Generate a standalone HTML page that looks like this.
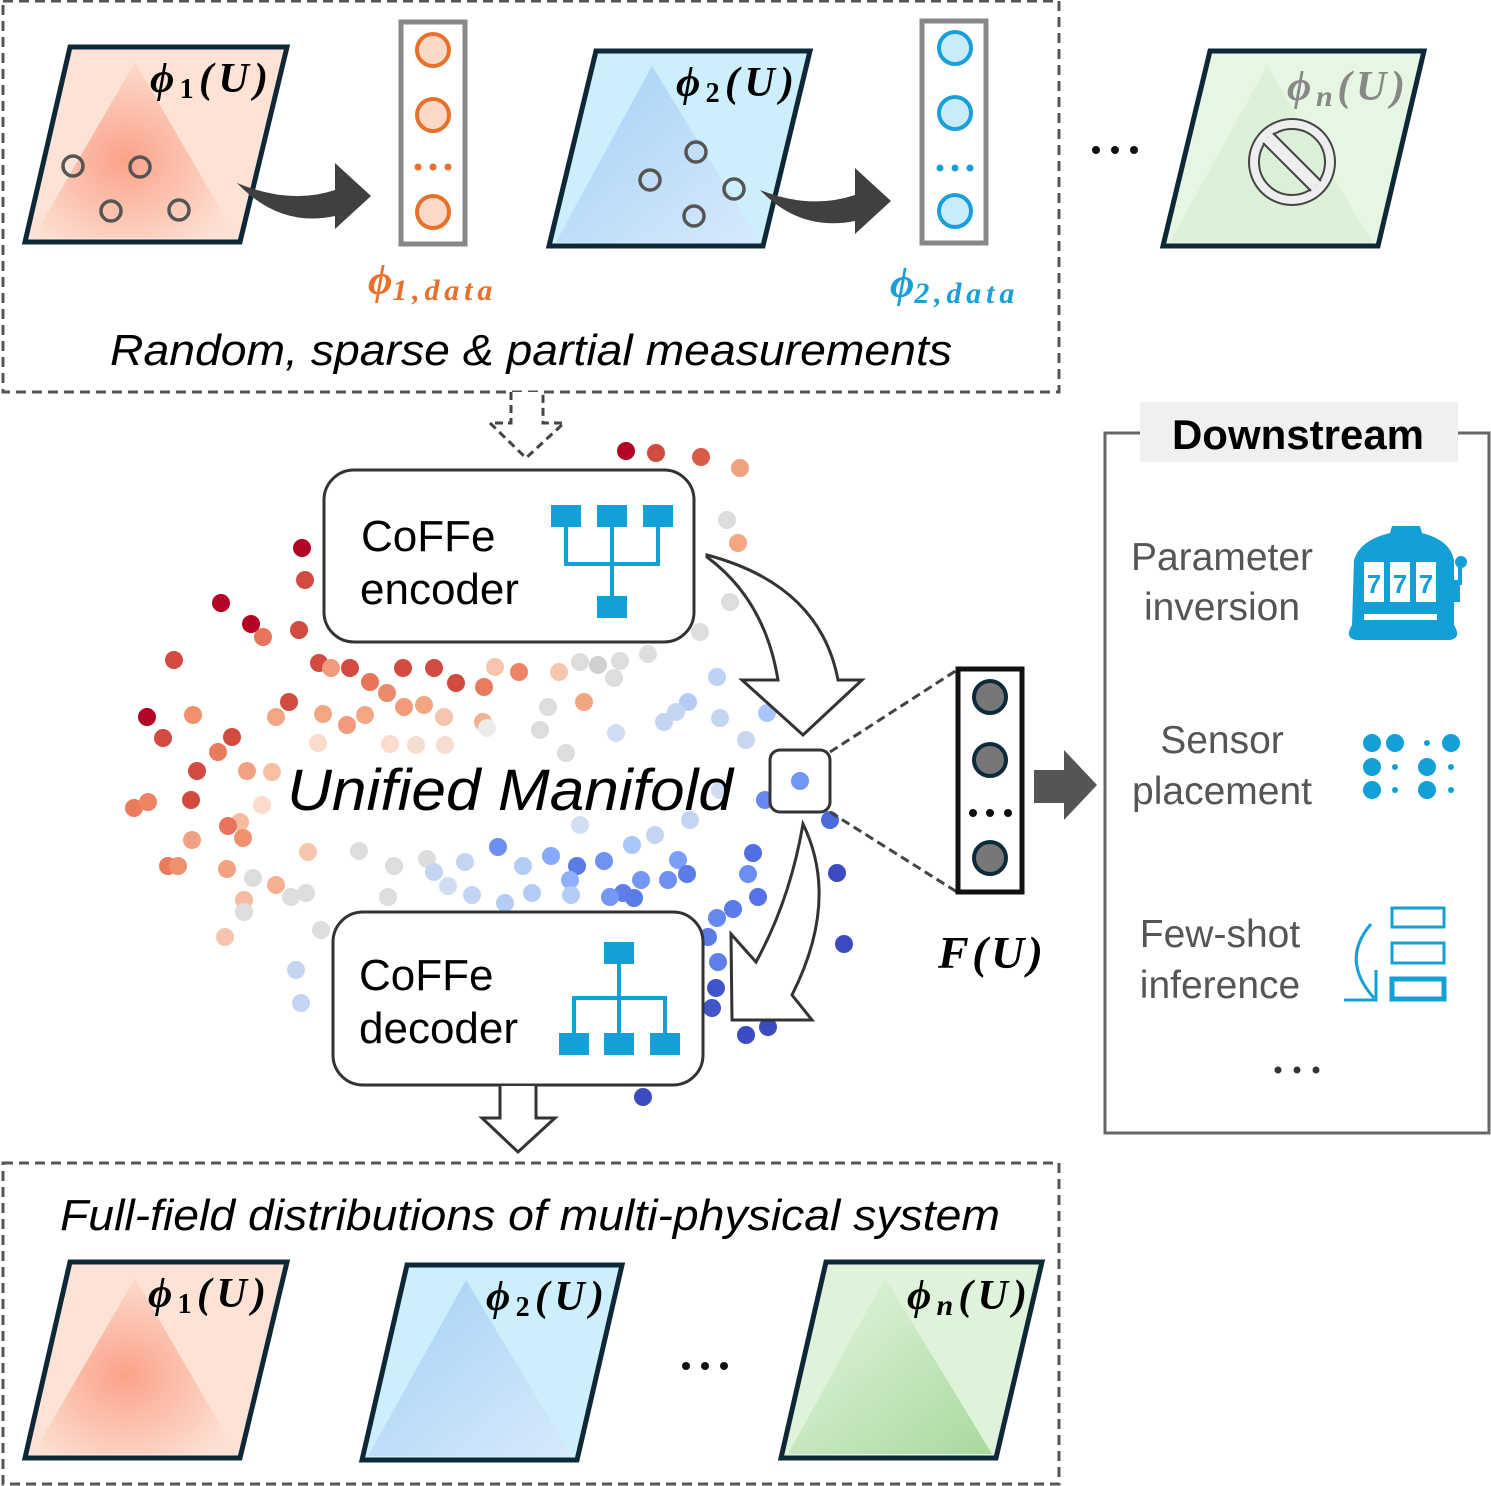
<!DOCTYPE html>
<html><head><meta charset="utf-8"><style>
html,body{margin:0;padding:0;background:#fff}
svg{display:block}
.s{font-family:"Liberation Sans",sans-serif}
.m{font-family:"Liberation Serif",serif;font-weight:bold;font-style:italic}
</style></head><body>
<svg width="1491" height="1486" viewBox="0 0 1491 1486" xmlns="http://www.w3.org/2000/svg">
<defs>
<radialGradient id="rg" cx="0.45" cy="0.55" r="0.6"><stop offset="0" stop-color="#fb9b80"/><stop offset="1" stop-color="#fde0d4"/></radialGradient>
<linearGradient id="bg" x1="0" y1="0" x2="1" y2="1"><stop offset="0" stop-color="#9ccbf5"/><stop offset="1" stop-color="#d9e9fb"/></linearGradient>
<linearGradient id="gg" x1="0" y1="0" x2="1" y2="1"><stop offset="0" stop-color="#e9f6e6"/><stop offset="1" stop-color="#9fd493"/></linearGradient>
</defs>

<rect x="3" y="1" width="1056" height="391" fill="none" stroke="#555" stroke-width="3" stroke-dasharray="10,6"/>
<rect x="3" y="1163" width="1056" height="321" fill="none" stroke="#555" stroke-width="3" stroke-dasharray="10,6"/>

<polygon points="25,242 70,47 287,47 240,242" fill="#fde2d6" stroke="#0e2838" stroke-width="5"/>
<polygon points="135,62 33,238 237,238" fill="url(#rg)" opacity="0.9"/>
<polygon points="549,246 596,51 810,51 763,246" fill="#cdeefb" stroke="#0e2838" stroke-width="5"/>
<polygon points="652,66 556,242 760,242" fill="url(#bg)" opacity="0.85"/>
<polygon points="1163,246 1210,51 1424,51 1378,246" fill="#e6f6e2" stroke="#0e2838" stroke-width="5"/>
<polygon points="1267,66 1170,242 1372,242" fill="#d6efd0" opacity="0.6"/>
<g fill="none" stroke="#555" stroke-width="3.5">
<circle cx="73" cy="166" r="10"/><circle cx="140" cy="167" r="10"/><circle cx="111" cy="211" r="10"/><circle cx="179" cy="210" r="10"/>
<circle cx="696" cy="152" r="10"/><circle cx="650" cy="180" r="10"/><circle cx="734" cy="189" r="10"/><circle cx="694" cy="216" r="10"/>
</g>
<text x="150" y="92" class="m" font-size="42" textLength="118" lengthAdjust="spacing">ϕ<tspan font-size="28" font-style="normal" dy="6">1</tspan><tspan dy="-6">(U)</tspan></text>
<text x="676" y="96" class="m" font-size="42" textLength="118" lengthAdjust="spacing">ϕ<tspan font-size="28" font-style="normal" dy="6">2</tspan><tspan dy="-6">(U)</tspan></text>
<text x="1287" y="100" class="m" font-size="42" fill="#888" textLength="118" lengthAdjust="spacing">ϕ<tspan font-size="30" dy="6">n</tspan><tspan dy="-6">(U)</tspan></text>
<circle cx="1292" cy="162" r="43" fill="#eee" stroke="#444" stroke-width="2"/>
<circle cx="1292" cy="162" r="33" fill="#dcefd8" stroke="#444" stroke-width="2"/>
<line x1="1268" y1="138" x2="1316" y2="186" stroke="#eee" stroke-width="12"/>
<path d="M1263,143 L1311,191 M1273,133 L1321,181" stroke="#444" stroke-width="2"/>

<path d="M237,183 Q290,205 335,190 L335,163 L371,196 L335,229 L335,216 Q280,228 237,183Z" fill="#404040"/>
<path d="M760,190 Q810,210 855,195 L855,168 L891,201 L855,234 L855,221 Q800,232 760,190Z" fill="#404040"/>

<rect x="401" y="22" width="64" height="222" fill="#fff" stroke="#888" stroke-width="5"/>
<g fill="#fbd9c6" stroke="#e8702a" stroke-width="4"><circle cx="433" cy="50" r="16"/><circle cx="433" cy="115" r="16"/><circle cx="433" cy="212" r="16"/></g>
<g fill="#e8702a"><circle cx="418" cy="167" r="3.5"/><circle cx="433" cy="167" r="3.5"/><circle cx="448" cy="167" r="3.5"/></g>
<rect x="922" y="21" width="64" height="222" fill="#fff" stroke="#888" stroke-width="5"/>
<g fill="#c8ecfa" stroke="#1a9fd8" stroke-width="4"><circle cx="955" cy="48" r="16"/><circle cx="955" cy="113" r="16"/><circle cx="955" cy="211" r="16"/></g>
<g fill="#1a9fd8"><circle cx="940" cy="168" r="3.5"/><circle cx="955" cy="168" r="3.5"/><circle cx="970" cy="168" r="3.5"/></g>
<text x="368" y="294" class="m" font-size="42" fill="#e8702a">ϕ<tspan font-size="30" dy="6" textLength="100" lengthAdjust="spacing">1,data</tspan></text>
<text x="890" y="297" class="m" font-size="42" fill="#1a9fd8">ϕ<tspan font-size="30" dy="6" textLength="100" lengthAdjust="spacing">2,data</tspan></text>
<g fill="#111"><circle cx="1096" cy="150" r="4"/><circle cx="1115" cy="150" r="4"/><circle cx="1134" cy="150" r="4"/></g>
<text x="110" y="365" class="s" font-size="44" font-style="italic" textLength="842" lengthAdjust="spacingAndGlyphs">Random, sparse &amp; partial measurements</text>

<path d="M511,392 L511,423 L490,423 L526,458 L564,423 L543,423 L543,392" fill="#fff" stroke="#444" stroke-width="3" stroke-dasharray="8,5"/>

<g>
<circle cx="626" cy="451" r="9" fill="#b40426"/><circle cx="656" cy="453" r="9" fill="#d24b40"/><circle cx="701" cy="457" r="9" fill="#d85c47"/><circle cx="740" cy="468" r="9" fill="#f2a283"/><circle cx="727" cy="520" r="9" fill="#ddd"/><circle cx="738" cy="543" r="9" fill="#f4a683"/>
<circle cx="302" cy="548" r="9" fill="#b40426"/><circle cx="305" cy="580" r="9" fill="#d24b40"/><circle cx="221" cy="603" r="9" fill="#b40426"/><circle cx="251" cy="624" r="9" fill="#b40426"/><circle cx="263" cy="637" r="9" fill="#e7745b"/><circle cx="299" cy="630" r="9" fill="#d24b40"/><circle cx="174" cy="660" r="9" fill="#d24b40"/>
<circle cx="147" cy="717" r="9" fill="#b40426"/><circle cx="163" cy="738" r="9" fill="#d24b40"/><circle cx="193" cy="715" r="9" fill="#f0906f"/><circle cx="232" cy="737" r="9" fill="#d24b40"/><circle cx="218" cy="752" r="9" fill="#ea7b5d"/><circle cx="197" cy="771" r="9" fill="#d24b40"/><circle cx="191" cy="800" r="9" fill="#d24b40"/><circle cx="134" cy="808" r="9" fill="#ea7b5d"/><circle cx="148" cy="802" r="9" fill="#ee8465"/><circle cx="247" cy="771" r="9" fill="#f2a283"/><circle cx="272" cy="772" r="9" fill="#f8c1a6"/><circle cx="240" cy="822" r="9" fill="#f6bba0"/><circle cx="228" cy="826" r="9" fill="#e7745b"/><circle cx="243" cy="838" r="9" fill="#f0906f"/><circle cx="192" cy="840" r="9" fill="#f2a283"/><circle cx="168" cy="866" r="9" fill="#ea7b5d"/><circle cx="178" cy="866" r="9" fill="#f0906f"/><circle cx="227" cy="869" r="9" fill="#f2a283"/><circle cx="253" cy="878" r="9" fill="#ddd"/><circle cx="244" cy="900" r="9" fill="#f6bba0"/><circle cx="244" cy="912" r="9" fill="#ddd"/><circle cx="225" cy="937" r="9" fill="#f7c5ad"/><circle cx="276" cy="885" r="9" fill="#f4b091"/><circle cx="291" cy="897" r="9" fill="#ddd"/><circle cx="306" cy="893" r="9" fill="#ddd"/>
<circle cx="319" cy="663" r="9" fill="#d24b40"/><circle cx="331" cy="668" r="9" fill="#f29a7b"/><circle cx="350" cy="668" r="9" fill="#d24b40"/><circle cx="370" cy="682" r="9" fill="#e7745b"/><circle cx="403" cy="668" r="9" fill="#d24b40"/><circle cx="434" cy="668" r="9" fill="#d24b40"/><circle cx="456" cy="683" r="9" fill="#d24b40"/><circle cx="484" cy="687" r="9" fill="#ea7b5d"/><circle cx="495" cy="667" r="9" fill="#f7c5ad"/><circle cx="519" cy="672" r="9" fill="#ee8465"/><circle cx="387" cy="693" r="9" fill="#ec8a6c"/><circle cx="404" cy="707" r="9" fill="#f29a7b"/><circle cx="424" cy="705" r="9" fill="#f4a683"/><circle cx="444" cy="717" r="9" fill="#f7c5ad"/><circle cx="483" cy="722" r="9" fill="#f4b091"/><circle cx="365" cy="715" r="9" fill="#f4a683"/><circle cx="347" cy="725" r="9" fill="#f29a7b"/><circle cx="323" cy="714" r="9" fill="#f4a683"/><circle cx="289" cy="702" r="9" fill="#d24b40"/><circle cx="276" cy="717" r="9" fill="#f4a683"/>
<circle cx="559" cy="672" r="9" fill="#f7c5ad"/><circle cx="580" cy="662" r="9" fill="#ddd"/><circle cx="598" cy="665" r="9" fill="#d0d0d0"/><circle cx="614" cy="678" r="9" fill="#ddd"/><circle cx="620" cy="661" r="9" fill="#ddd"/><circle cx="648" cy="654" r="9" fill="#ddd"/><circle cx="700" cy="632" r="9" fill="#ddd"/><circle cx="730" cy="602" r="9" fill="#ddd"/><circle cx="584" cy="702" r="9" fill="#f4a683"/><circle cx="548" cy="707" r="9" fill="#ddd"/><circle cx="540" cy="730" r="9" fill="#ddd"/><circle cx="566" cy="753" r="9" fill="#ddd"/>
<circle cx="717" cy="677" r="9" fill="#bcd2f7"/><circle cx="688" cy="702" r="9" fill="#b4cdf7"/><circle cx="676" cy="712" r="9" fill="#c4d5f3"/><circle cx="664" cy="722" r="9" fill="#c4d5f3"/><circle cx="720" cy="718" r="9" fill="#c4d5f3"/><circle cx="767" cy="713" r="9" fill="#aac7fd"/><circle cx="746" cy="740" r="9" fill="#c9d7f0"/><circle cx="616" cy="733" r="9" fill="#d0ddf3"/>
<circle cx="765" cy="800" r="9" fill="#6788ee"/><circle cx="830" cy="820" r="9" fill="#4b6ae0"/><circle cx="837" cy="873" r="9" fill="#3b4cc0"/><circle cx="844" cy="944" r="9" fill="#3b4cc0"/><circle cx="753" cy="853" r="9" fill="#4f6fe2"/><circle cx="748" cy="874" r="9" fill="#6c8ff1"/><circle cx="758" cy="897" r="9" fill="#5573e6"/><circle cx="733" cy="909" r="9" fill="#5b7be8"/><circle cx="717" cy="918" r="9" fill="#6788ee"/><circle cx="718" cy="962" r="9" fill="#5f80ea"/><circle cx="716" cy="988" r="9" fill="#4055c8"/><circle cx="712" cy="1008" r="9" fill="#4055c8"/><circle cx="746" cy="1035" r="9" fill="#3b4cc0"/><circle cx="768" cy="1027" r="9" fill="#3b4cc0"/><circle cx="643" cy="1097" r="9" fill="#3b4cc0"/><circle cx="708" cy="937" r="9" fill="#5b7be8"/>
<circle cx="498" cy="847" r="9" fill="#6c8ff1"/><circle cx="523" cy="866" r="9" fill="#b4cdf7"/><circle cx="551" cy="856" r="9" fill="#86a9fc"/><circle cx="577" cy="866" r="9" fill="#5b7be8"/><circle cx="604" cy="861" r="9" fill="#7093f3"/><circle cx="632" cy="845" r="9" fill="#aac7fd"/><circle cx="655" cy="835" r="9" fill="#c4d5f3"/><circle cx="678" cy="860" r="9" fill="#7b9ff9"/><circle cx="687" cy="874" r="9" fill="#5b7be8"/><circle cx="668" cy="880" r="9" fill="#6e90f2"/><circle cx="641" cy="880" r="9" fill="#7597f6"/><circle cx="623" cy="893" r="9" fill="#5f7fe8"/><circle cx="610" cy="897" r="9" fill="#7597f6"/><circle cx="634" cy="898" r="9" fill="#5b7be8"/><circle cx="570" cy="880" r="9" fill="#8db0fe"/><circle cx="571" cy="895" r="9" fill="#b4cdf7"/><circle cx="532" cy="893" r="9" fill="#b4cdf7"/><circle cx="505" cy="903" r="9" fill="#b4cdf7"/><circle cx="472" cy="895" r="9" fill="#c4d5f3"/><circle cx="448" cy="886" r="9" fill="#d0ddf3"/><circle cx="388" cy="897" r="9" fill="#ddd"/><circle cx="359" cy="851" r="9" fill="#ddd"/><circle cx="394" cy="866" r="9" fill="#ddd"/><circle cx="427" cy="859" r="9" fill="#ddd"/><circle cx="434" cy="872" r="9" fill="#c4d5f3"/><circle cx="465" cy="862" r="9" fill="#c4d5f3"/><circle cx="296" cy="970" r="9" fill="#c4d5f3"/><circle cx="301" cy="1003" r="9" fill="#c4d5f3"/><circle cx="321" cy="930" r="9" fill="#ddd"/><circle cx="308" cy="852" r="9" fill="#f7c5ad"/>
<circle cx="318" cy="743" r="9" fill="#fadbcc"/><circle cx="390" cy="744" r="9" fill="#fadbcc"/><circle cx="416" cy="745" r="9" fill="#f6ddd0"/><circle cx="445" cy="745" r="9" fill="#f6ddd0"/><circle cx="487" cy="728" r="9" fill="#ececec"/><circle cx="262" cy="805" r="9" fill="#fadbcc"/><circle cx="580" cy="825" r="9" fill="#d0ddf3"/><circle cx="690" cy="820" r="9" fill="#c4d5f3"/><circle cx="720" cy="790" r="9" fill="#d0ddf3"/>
</g>

<text x="287" y="810" class="s" font-size="58" font-style="italic" textLength="446" lengthAdjust="spacingAndGlyphs">Unified Manifold</text>

<rect x="324" y="470" width="370" height="172" rx="30" fill="#fff" stroke="#333" stroke-width="3"/>
<text x="361" y="551" class="s" font-size="44">CoFFe</text>
<text x="360" y="604" class="s" font-size="44">encoder</text>
<g fill="#12a0d7"><rect x="551" y="505" width="30" height="22"/><rect x="597" y="505" width="30" height="22"/><rect x="643" y="505" width="30" height="22"/><rect x="597" y="596" width="30" height="22"/></g>
<path d="M566,527 V564 H658 V527 M612,527 V596" fill="none" stroke="#12a0d7" stroke-width="4"/>

<path d="M707,555 Q820,585 838,680 L862,680 L803,735 L742,680 L778,680 Q765,600 707,557Z" fill="#fff" stroke="#333" stroke-width="3"/>

<rect x="770" y="750" width="60" height="62" rx="10" fill="#fff" stroke="#333" stroke-width="3"/>
<circle cx="800" cy="781" r="9" fill="#6f95f5"/>
<line x1="830" y1="752" x2="957" y2="670" stroke="#444" stroke-width="3" stroke-dasharray="9,5"/>
<line x1="830" y1="812" x2="957" y2="892" stroke="#444" stroke-width="3" stroke-dasharray="9,5"/>

<path d="M803,824 Q840,900 792,995 L812,1020 L732,1020 L731,934 L756,962 Q790,900 803,824Z" fill="#fff" stroke="#333" stroke-width="3"/>

<rect x="958" y="669" width="64" height="223" fill="#fff" stroke="#111" stroke-width="5"/>
<g fill="#777" stroke="#0d2a3a" stroke-width="4"><circle cx="990" cy="697" r="16"/><circle cx="990" cy="760" r="16"/><circle cx="990" cy="858" r="16"/></g>
<g fill="#111"><circle cx="973" cy="813" r="4"/><circle cx="990" cy="813" r="4"/><circle cx="1008" cy="813" r="4"/></g>
<text x="938" y="968" class="m" font-size="46" textLength="105" lengthAdjust="spacing">F(U)</text>
<polygon points="1034,770 1064,770 1064,750 1097,785 1064,820 1064,803 1034,803" fill="#555"/>

<rect x="333" y="912" width="370" height="173" rx="30" fill="#fff" stroke="#333" stroke-width="3"/>
<text x="359" y="990" class="s" font-size="44">CoFFe</text>
<text x="359" y="1043" class="s" font-size="44">decoder</text>
<g fill="#12a0d7"><rect x="604" y="942" width="30" height="22"/><rect x="559" y="1033" width="30" height="22"/><rect x="604" y="1033" width="30" height="22"/><rect x="650" y="1033" width="30" height="22"/></g>
<path d="M619,964 V1033 M574,1033 V998 H665 V1033" fill="none" stroke="#12a0d7" stroke-width="4"/>
<path d="M500,1086 L500,1118 L482,1118 L518,1152 L555,1118 L536,1118 L536,1086" fill="#fff" stroke="#333" stroke-width="3"/>

<text x="60" y="1230" class="s" font-size="44" font-style="italic" textLength="940" lengthAdjust="spacingAndGlyphs">Full-field distributions of multi-physical system</text>
<polygon points="25,1458 70,1262 287,1262 240,1458" fill="#fde2d6" stroke="#0e2838" stroke-width="5"/>
<polygon points="135,1278 33,1454 237,1454" fill="url(#rg)" opacity="0.9"/>
<polygon points="362,1460 407,1265 622,1265 577,1460" fill="#cdeefb" stroke="#0e2838" stroke-width="5"/>
<polygon points="466,1280 368,1456 572,1456" fill="url(#bg)" opacity="0.85"/>
<polygon points="781,1458 826,1262 1042,1262 996,1458" fill="#dff3da" stroke="#0e2838" stroke-width="5"/>
<polygon points="885,1278 788,1454 992,1454" fill="url(#gg)" opacity="0.85"/>
<text x="148" y="1307" class="m" font-size="42" textLength="118" lengthAdjust="spacing">ϕ<tspan font-size="28" font-style="normal" dy="6">1</tspan><tspan dy="-6">(U)</tspan></text>
<text x="486" y="1310" class="m" font-size="42" textLength="118" lengthAdjust="spacing">ϕ<tspan font-size="28" font-style="normal" dy="6">2</tspan><tspan dy="-6">(U)</tspan></text>
<text x="907" y="1309" class="m" font-size="42" textLength="120" lengthAdjust="spacing">ϕ<tspan font-size="30" dy="6">n</tspan><tspan dy="-6">(U)</tspan></text>
<g fill="#111"><circle cx="686" cy="1366" r="4"/><circle cx="705" cy="1366" r="4"/><circle cx="724" cy="1366" r="4"/></g>

<path d="M1140,433 H1105 V1133 H1489 V433 H1458" fill="none" stroke="#666" stroke-width="3"/>
<rect x="1140" y="402" width="318" height="60" fill="#f0f0f0"/>
<text x="1298" y="449" class="s" font-size="42" font-weight="bold" text-anchor="middle">Downstream</text>
<g class="s" font-size="39" fill="#555" text-anchor="middle">
<text x="1222" y="570">Parameter</text><text x="1222" y="620">inversion</text>
<text x="1222" y="753">Sensor</text><text x="1222" y="804">placement</text>
<text x="1220" y="947">Few-shot</text><text x="1220" y="998">inference</text>
</g>
<g fill="#333"><circle cx="1278" cy="1070" r="3.5"/><circle cx="1297" cy="1070" r="3.5"/><circle cx="1316" cy="1070" r="3.5"/></g>
<g fill="#12a0d7">
<path d="M1354,560 Q1360,540 1390,533 L1392,526 L1420,526 L1422,533 Q1450,540 1454,560 L1454,625 Q1462,638 1450,640 L1356,640 Q1344,638 1352,625Z"/>
<rect x="1454" y="580" width="6" height="22"/><rect x="1458" y="565" width="4" height="20"/><circle cx="1461" cy="562" r="6"/>
</g>
<g fill="#fff"><rect x="1364" y="562" width="20" height="40"/><rect x="1390" y="562" width="20" height="40"/><rect x="1416" y="562" width="20" height="40"/><rect x="1364" y="614" width="73" height="6"/></g>
<g fill="#12a0d7" font-family="Liberation Sans,sans-serif" font-weight="bold" font-size="26" text-anchor="middle"><text x="1374" y="593">7</text><text x="1400" y="593">7</text><text x="1426" y="593">7</text></g>
<g fill="#12a0d7">
<circle cx="1372" cy="743" r="9"/><circle cx="1395" cy="743" r="9"/><circle cx="1427" cy="743" r="3"/><circle cx="1451" cy="743" r="9"/>
<circle cx="1372" cy="767" r="9"/><circle cx="1395" cy="767" r="3"/><circle cx="1427" cy="767" r="9"/><circle cx="1451" cy="767" r="3"/>
<circle cx="1372" cy="790" r="9"/><circle cx="1395" cy="790" r="3"/><circle cx="1427" cy="790" r="9"/><circle cx="1451" cy="790" r="3"/>
</g>
<g fill="none" stroke="#12a0d7">
<rect x="1392" y="908" width="52" height="19" stroke-width="3"/><rect x="1392" y="943" width="52" height="20" stroke-width="3"/><rect x="1392" y="979" width="52" height="20" stroke-width="5"/>
<path d="M1371,924 Q1340,960 1374,998" stroke-width="3"/>
<path d="M1344,1000 H1376 V970" stroke-width="3"/>
</g>
</svg>
</body></html>
